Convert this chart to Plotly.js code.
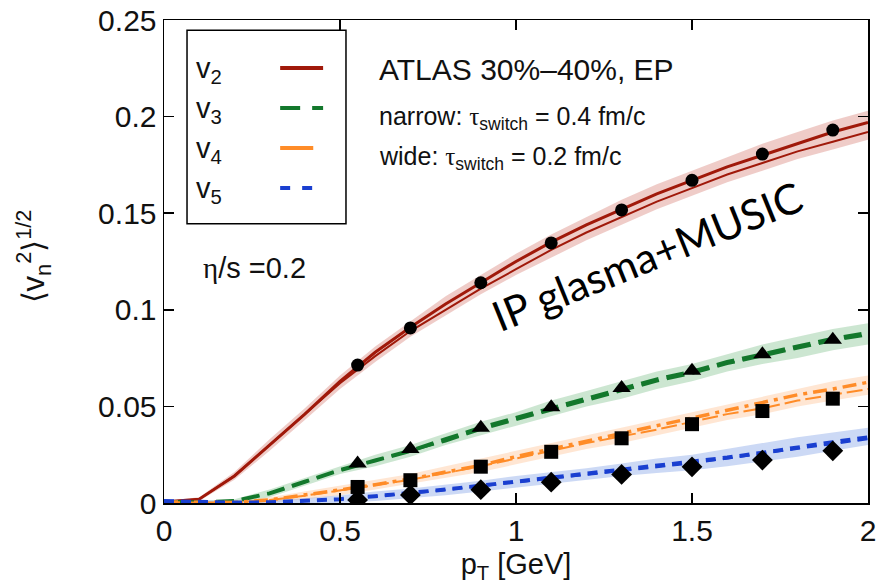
<!DOCTYPE html>
<html>
<head>
<meta charset="utf-8">
<script src="https://cdn.plot.ly/plotly-3.0.1.min.js"></script>
<style>html,body{margin:0;padding:0;background:#fff}#chart{width:881px;height:585px}</style>
</head>
<body>
<div id="chart"></div>
<script>
// ---- data ----
const pt = [0,0.1,0.2,0.3,0.4,0.5,0.6,0.7,0.8,0.9,1.0,1.1,1.2,1.3,1.4,1.5,1.6,1.7,1.8,1.9,2.0];

const v2_narrow = [0.0005,0.002,0.014,0.030,0.046,0.063,0.078,0.091,0.103,0.114,0.125,0.135,0.144,0.152,0.160,0.167,0.174,0.180,0.186,0.192,0.197];
const v2_wide   = [0.0005,0.002,0.014,0.030,0.046,0.062,0.076,0.089,0.100,0.111,0.121,0.131,0.140,0.148,0.156,0.163,0.170,0.176,0.182,0.187,0.192];
const v2_hi     = [0.001,0.003,0.016,0.033,0.049,0.066,0.081,0.094,0.107,0.118,0.129,0.139,0.148,0.157,0.165,0.172,0.179,0.186,0.192,0.198,0.203];
const v2_lo     = [0.000,0.001,0.012,0.027,0.043,0.059,0.073,0.086,0.097,0.108,0.118,0.127,0.136,0.144,0.152,0.159,0.166,0.172,0.178,0.183,0.188];

const v3_narrow = [0.0005,0.0003,0.001,0.005,0.011,0.017,0.022,0.027,0.033,0.039,0.044,0.049,0.054,0.059,0.064,0.068,0.073,0.077,0.081,0.085,0.088];
const v3_wide   = [0.0005,0.0003,0.001,0.005,0.011,0.017,0.022,0.027,0.032,0.038,0.043,0.048,0.053,0.058,0.063,0.067,0.072,0.076,0.080,0.084,0.087];
const v3_hi     = [0.001,0.001,0.002,0.007,0.013,0.019,0.025,0.030,0.036,0.042,0.047,0.053,0.058,0.063,0.068,0.072,0.077,0.082,0.086,0.090,0.093];
const v3_lo     = [0.000,0.000,0.000,0.003,0.009,0.015,0.019,0.024,0.030,0.035,0.040,0.045,0.050,0.054,0.059,0.063,0.068,0.072,0.075,0.079,0.082];

const v4_narrow = [0.0005,0.0002,0.0003,0.0016,0.004,0.0068,0.0095,0.0125,0.016,0.0195,0.024,0.028,0.032,0.036,0.040,0.044,0.048,0.052,0.056,0.059,0.0625];
const v4_wide   = [0.0005,0.0002,0.0003,0.0015,0.0038,0.0065,0.009,0.012,0.0155,0.019,0.023,0.027,0.031,0.0345,0.038,0.042,0.046,0.049,0.053,0.056,0.059];
const v4_hi     = [0.001,0.001,0.001,0.003,0.006,0.009,0.012,0.015,0.019,0.023,0.027,0.031,0.035,0.039,0.043,0.047,0.051,0.055,0.059,0.063,0.066];
const v4_lo     = [0.000,0.000,0.000,0.000,0.002,0.004,0.007,0.010,0.013,0.016,0.020,0.024,0.028,0.031,0.035,0.039,0.043,0.046,0.050,0.053,0.056];

const v5_narrow = [0.001,0.0005,0.0002,0.0004,0.001,0.002,0.0035,0.005,0.007,0.009,0.011,0.013,0.015,0.017,0.019,0.021,0.0235,0.026,0.029,0.0315,0.034];
const v5_wide   = [0.001,0.0005,0.0002,0.0004,0.001,0.002,0.0033,0.0048,0.0067,0.0086,0.0105,0.0125,0.0145,0.0165,0.0185,0.0205,0.023,0.0255,0.028,0.0305,0.033];
const v5_hi     = [0.002,0.0015,0.001,0.0015,0.0025,0.004,0.006,0.0075,0.0095,0.0115,0.014,0.016,0.018,0.0205,0.023,0.025,0.028,0.031,0.034,0.0365,0.039];
const v5_lo     = [0.000,0.000,0.000,0.000,0.000,0.000,0.001,0.0025,0.004,0.006,0.008,0.010,0.012,0.014,0.0155,0.017,0.019,0.0215,0.024,0.027,0.030];

// ATLAS data points
const atlas_pt = [0.55,0.7,0.9,1.1,1.3,1.5,1.7,1.9];
const atlas_v2 = [0.0714,0.0906,0.114,0.1346,0.1517,0.167,0.1806,0.193];
const atlas_v3 = [0.0205,0.028,0.039,0.0495,0.0595,0.0685,0.077,0.0845];
const atlas_v4 = [0.0083,0.0118,0.0188,0.0265,0.0335,0.0408,0.0476,0.054];
const atlas_v5 = [0.0016,0.0042,0.0069,0.0108,0.0148,0.0187,0.0222,0.027];

const legend_labels = ['v<sub>2</sub>','v<sub>3</sub>','v<sub>4</sub>','v<sub>5</sub>'];

// ---- styles ----
const C2='#a0190a', C3='#13782c', C4='#ff8c28', C5='#1a3fd0';
const B2='rgba(214,120,110,0.38)', B3='rgba(120,190,135,0.38)', B4='rgba(255,190,140,0.38)', B5='rgba(120,155,230,0.38)';

function band(lo, hi, col){
  return [
    {x:pt, y:lo, mode:'lines', line:{width:0,color:col}, hoverinfo:'skip', showlegend:false},
    {x:pt, y:hi, mode:'lines', line:{width:0,color:col}, fill:'tonexty', fillcolor:col, hoverinfo:'skip', showlegend:false}
  ];
}
function curve(y, col, w, dash){
  return {x:pt, y:y, mode:'lines', line:{color:col, width:w, dash:dash}, showlegend:false};
}
function pts(y, sym, size){
  return {x:atlas_pt, y:y, mode:'markers', marker:{symbol:sym, size:size, color:'#000'}, showlegend:false};
}

const traces = [].concat(
  band(v2_lo, v2_hi, B2), band(v3_lo, v3_hi, B3), band(v4_lo, v4_hi, B4), band(v5_lo, v5_hi, B5),
  [
    curve(v2_narrow, C2, 3, 'solid'), curve(v2_wide, C2, 2, 'solid'),
    curve(v3_narrow, C3, 4, '18px,8px'), curve(v3_wide, C3, 2.5, '18px,8px'),
    curve(v4_narrow, C4, 3.5, '14px,6px,4px,6px'), curve(v4_wide, C4, 2, '16px,5px'),
    curve(v5_narrow, C5, 4, '10px,7px'), curve(v5_wide, C5, 2, '10px,7px'),
    pts(atlas_v2, 'circle', 13), pts(atlas_v3, 'triangle-up', 16),
    pts(atlas_v4, 'square', 14), pts(atlas_v5, 'diamond', 16)
  ]
);

const FONT = 'Liberation Sans, Arial, sans-serif';
const SERIF = 'Liberation Serif, DejaVu Serif, serif';

// custom legend (text left, line sample right)
const legY = [0.9006, 0.8178, 0.7350, 0.6522];
const legCol = [C2, C3, C4, C5];
const legDash = ['solid', '20px,12px', 'solid', '10px,12px'];
const legEnd = [0.226, 0.226, 0.212, 0.218];
const legW = [4, 4, 4, 4];

const shapes = [
  {type:'rect', xref:'paper', yref:'paper', x0:0.0327, x1:0.2585, y0:0.578, y1:0.979, line:{color:'#000', width:1.5}, fillcolor:'#fff', layer:'above'}
];
legY.forEach((yy,i)=>{
  shapes.push({type:'line', xref:'paper', yref:'paper', x0:0.165, x1:legEnd[i], y0:yy, y1:yy, line:{color:legCol[i], width:legW[i], dash:legDash[i]}, layer:'above'});
});

const annotations = legend_labels.map((t,i)=>({
  text:t, xref:'paper', yref:'paper', x:0.042, y:legY[i]-0.005, xanchor:'left', yanchor:'middle', showarrow:false,
  font:{family:FONT, size:29, color:'#111'}
}));

annotations.push(
  {text:'ATLAS 30%–40%, EP', xref:'paper', yref:'paper', x:0.303, y:0.8985, xanchor:'left', yanchor:'middle', showarrow:false, font:{family:FONT, size:30, color:'#111'}},
  {text:'narrow: <span style="font-family:'+SERIF+'">τ</span><sub>switch</sub> = 0.4 fm/c', xref:'paper', yref:'paper', x:0.303, y:0.797, xanchor:'left', yanchor:'middle', showarrow:false, font:{family:FONT, size:25, color:'#111'}},
  {text:'wide: <span style="font-family:'+SERIF+'">τ</span><sub>switch</sub> = 0.2 fm/c', xref:'paper', yref:'paper', x:0.303, y:0.714, xanchor:'left', yanchor:'middle', showarrow:false, font:{family:FONT, size:25, color:'#111'}},
  {text:'<span style="font-family:'+SERIF+'">η</span>/s =0.2', xref:'paper', yref:'paper', x:0.052, y:0.487, xanchor:'left', yanchor:'middle', showarrow:false, font:{family:FONT, size:29, color:'#111'}},
  {text:'IP glasma+MUSIC', xref:'paper', yref:'paper', x:0.686, y:0.512, xanchor:'center', yanchor:'middle', showarrow:false, textangle:-22, font:{family:'Lato, Open Sans, sans-serif', size:42, color:'#000'}},
  {text:'⟨v<sub>n</sub><sup>2</sup>⟩<sup>1/2</sup>', xref:'paper', yref:'paper', x:-0.185, y:0.51, xanchor:'center', yanchor:'middle', showarrow:false, textangle:-90, font:{family:FONT, size:31, color:'#111'}}
);

const layout = {
  width:881, height:585,
  margin:{l:164, r:13, t:20, b:82},
  paper_bgcolor:'#fff', plot_bgcolor:'#fff',
  showlegend:false,
  font:{family:FONT, color:'#111'},
  xaxis:{
    range:[0,2], dtick:0.5, tick0:0, ticks:'inside', ticklen:10, tickwidth:1.5, tickcolor:'#000',
    mirror:'ticks', showline:true, linecolor:'#000', linewidth:1.5, showgrid:false, zeroline:false,
    tickfont:{family:FONT, size:30, color:'#111'},
    title:{text:'p<sub>T</sub> [GeV]', font:{family:FONT, size:29, color:'#111'}, standoff:8}
  },
  yaxis:{
    range:[0,0.25], dtick:0.05, tick0:0, ticks:'inside', ticklen:10, tickwidth:1.5, tickcolor:'#000',
    mirror:'ticks', showline:true, linecolor:'#000', linewidth:1.5, showgrid:false, zeroline:false,
    tickfont:{family:FONT, size:30, color:'#111'}
  },
  shapes:shapes,
  annotations:annotations
};

Plotly.newPlot('chart', traces, layout, {displayModeBar:false, staticPlot:true});
</script>
</body>
</html>
